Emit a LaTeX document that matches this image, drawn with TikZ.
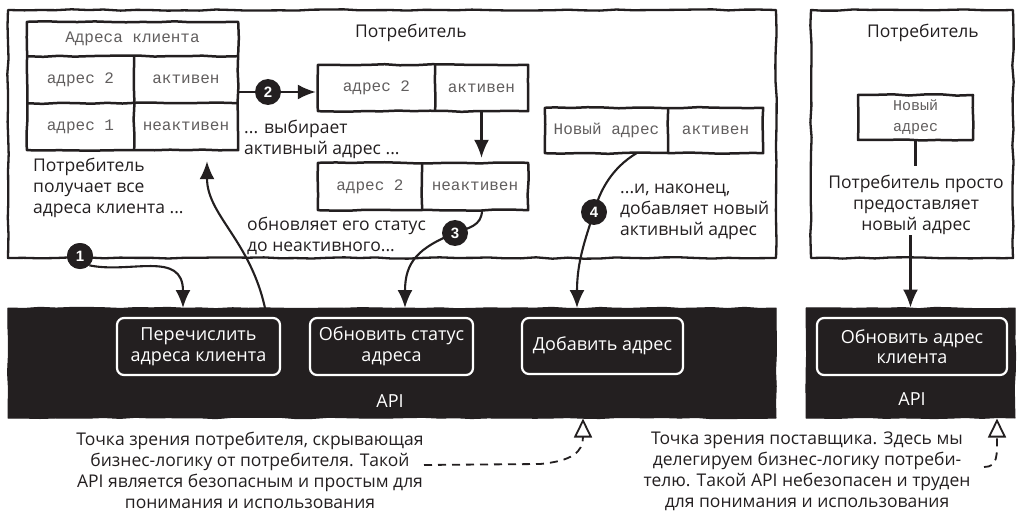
\documentclass[tikz,border=0pt]{standalone}
\usepackage{fontspec}
\setmainfont{Open Sans}
\newfontfamily\monofont{Liberation Mono}
\newfontfamily\numfont{Liberation Sans}
\usetikzlibrary{arrows.meta, decorations.pathmorphing, calc}
\definecolor{ink}{HTML}{231F20}
\tikzset{
  hand/.style={decorate, decoration={random steps, segment length=16pt, amplitude=0.7pt}, line join=round},
  panel/.style={hand, draw=ink, line width=2.3pt, inner sep=0pt},
  frame/.style={hand, draw=ink, line width=2.5pt},
  cell/.style={inner sep=0pt, font=\monofont\fontsize{16}{19}\selectfont, text=ink!72},
  lbl/.style={inner sep=0pt, font=\fontsize{17.5}{21}\selectfont, text=ink, align=left},
  note/.style={inner sep=0pt, font=\fontsize{17.5}{21}\selectfont, text=ink, align=center},
  apibar/.style={hand, fill=ink, draw=ink, line width=1pt, inner sep=0pt},
  op/.style={rounded corners=7pt, draw=white, line width=2.2pt, text=white, align=center,
    font=\fontsize{18}{20.5}\selectfont, inner sep=0pt},
  apilbl/.style={inner sep=0pt, text=white, font=\fontsize{18}{20}\selectfont},
  num/.style={circle, fill=ink, text=white, minimum size=26pt, inner sep=0pt, font=\numfont\bfseries\fontsize{15}{15}\selectfont},
  arr/.style={draw=ink, line width=2.1pt, -{Latex[length=18pt, width=15pt]}},
  link/.style={draw=ink, line width=2.1pt},
  dasharr/.style={draw=ink, line width=1.8pt, dash pattern=on 8pt off 6pt, -{Triangle[open, length=19pt, width=18pt]}}
}
\pgfmathsetseed{7}
\begin{document}
\begin{tikzpicture}[x=1pt, y=-1pt]
\useasboundingbox[fill=white] (0,0) rectangle (1021,516);

% ---------- consumer panels ----------
\node[panel, minimum width=768pt, minimum height=248pt] (consL) at (392,134) {};
\node[lbl] (titleL) at (411,33) {Потребитель};
\node[panel, minimum width=202pt, minimum height=248pt] (consR) at (912,134) {};
\node[lbl] (titleR) at (923,33) {Потребитель};

% ---------- customer addresses table ----------
\node[cell, minimum width=211pt, minimum height=34pt] (hdr) at (132.5,39) {Адреса клиента};
\node[cell, minimum width=107pt, minimum height=47pt] (r2a) at (80.5,79.5) {адрес 2};
\node[cell, minimum width=104pt, minimum height=47pt] (r2s) at (186,79.5) {активен};
\node[cell, minimum width=107pt, minimum height=47pt] (r1a) at (80.5,126.5) {адрес 1};
\node[cell, minimum width=104pt, minimum height=47pt] (r1s) at (186,126.5) {неактивен};
\draw[frame] (hdr.north west) rectangle (r1s.south east);
\draw[frame] (hdr.south west) -- (hdr.south east);
\draw[frame] (r2a.south west) -- (r2s.south east);
\draw[frame] (r2a.north east) -- (r1a.south east);

% ---------- selected address, active ----------
\node[cell, minimum width=117pt, minimum height=46pt] (b1a) at (376.5,88) {адрес 2};
\node[cell, minimum width=93pt, minimum height=46pt] (b1s) at (481.5,88) {активен};
\draw[frame] (b1a.north west) rectangle (b1s.south east);
\draw[frame] (b1a.north east) -- (b1a.south east);

% ---------- selected address, inactive ----------
\node[cell, minimum width=104pt, minimum height=47pt] (b2a) at (370,186.5) {адрес 2};
\node[cell, minimum width=106pt, minimum height=47pt] (b2s) at (475,186.5) {неактивен};
\draw[frame] (b2a.north west) rectangle (b2s.south east);
\draw[frame] (b2a.north east) -- (b2a.south east);

% ---------- new active address ----------
\node[cell, minimum width=123pt, minimum height=45pt] (na) at (606.5,130.5) {Новый адрес};
\node[cell, minimum width=95pt, minimum height=45pt] (ns) at (715.5,130.5) {активен};
\draw[frame] (na.north west) rectangle (ns.south east);
\draw[frame] (na.north east) -- (na.south east);

% ---------- new address in the right panel ----------
\node[cell, panel, line width=2.5pt, minimum width=115pt, minimum height=45pt, align=center,
      font=\monofont\fontsize{15}{21}\selectfont] (newR) at (915.5,117.5) {Новый\\адрес};

% ---------- captions inside panels ----------
\node[lbl, anchor=north west] (tGet) at (33,158) {Потребитель\\получает все\\адреса клиента ...};
\node[lbl, anchor=north west] (tPick) at (244,120) {... выбирает\\активный адрес ...};
\node[lbl, anchor=north west] (tUpd) at (247,217) {обновляет его статус\\до неактивного...};
\node[lbl, anchor=north west] (tAdd) at (620,184) {...и, наконец,\\добавляет новый\\активный адрес};
\node[note, anchor=north] (tR) at (916,175) {Потребитель просто\\предоставляет\\новый адрес};

% ---------- API bars ----------
\node[apibar, minimum width=768pt, minimum height=110pt] (apiL) at (392,363) {};
\node[apibar, minimum width=209pt, minimum height=110pt] (apiR) at (910.5,363) {};
\node[op, minimum width=163pt, minimum height=57pt] (op1) at (198.5,346.5) {Перечислить\\адреса клиента};
\node[op, minimum width=163pt, minimum height=57pt] (op2) at (391.5,346.5) {Обновить статус\\адреса};
\node[op, minimum width=161pt, minimum height=56pt] (op3) at (602.5,346) {Добавить адрес};
\node[op, minimum width=190pt, minimum height=57pt] (op4) at (912,346.5) {Обновить адрес\\клиента};
\node[apilbl] (apiLtxt) at (390,401) {API};
\node[apilbl] (apiRtxt) at (912,399) {API};

% ---------- connectors ----------
\coordinate (t1) at (183,308);
\coordinate (s0) at (265,308);
\coordinate (y2) at (0,92);
\coordinate (t3) at (405,308);
\coordinate (t4) at (577,308);
\coordinate (yR) at (0,166);
\coordinate (xL) at (583,0);
\coordinate (xR) at (997,0);

% step 1: list the addresses
\node[num] (c1) at (80,256) {1};
\draw[arr] (c1.south east) .. controls (130,274) and (183,250) .. (t1);
\node[num] at (c1) {1};
% response back to the table
\draw[arr] (s0) .. controls (250,240) and (207,215) .. ($(r1s.south)+(21,11)$);

% step 2: pick the active address
\draw[arr] (r2s.east |- y2) -- ($(b1a.west |- y2)+(-2,0)$);
\node[num] (c2) at (268,92) {2};

% status change
\draw[arr] (b1s.south) -- ($(b1s.south |- b2s.north)+(0,-5)$);

% step 3: update the status
\draw[arr] ($(b2s.south)+(7,0)$) .. controls (482,226) and (468,228) .. (455,233)
   .. controls (418,248) and (405,262) .. (t3);
\node[num] (c3) at (455,233) {3};

% step 4: add the new address
\draw[arr] ($(na.south)+(30,0)$) .. controls (612,168) and (600,190) .. (594,212)
   .. controls (585,240) and (577,262) .. (t4);
\node[num] (c4) at (594,212) {4};

% right panel
\draw[link] (newR.south) -- (newR.south |- yR);
\draw[arr] (tR.south -| apiR.north) -- (apiR.north);

% ---------- notes below ----------
\node[note, anchor=north] (noteL) at (250,432) {Точка зрения потребителя, скрывающая\\бизнес-логику от потребителя. Такой\\API является безопасным и простым для\\понимания и использования};
\node[note, anchor=north] (noteR) at (807,432) {Точка зрения поставщика. Здесь мы\\делегируем бизнес-логику потреби-\\телю. Такой API небезопасен и труден\\для понимания и использования};
\coordinate (dL) at (424,465);
\coordinate (dR) at (984,467);
\draw[dasharr] (dL) -- (540,464) .. controls (572,461) and (583,452) .. (apiL.south -| xL);
\draw[dasharr] (dR) .. controls (998,467) and (997,455) .. (apiR.south -| xR);
\end{tikzpicture}
\end{document}
